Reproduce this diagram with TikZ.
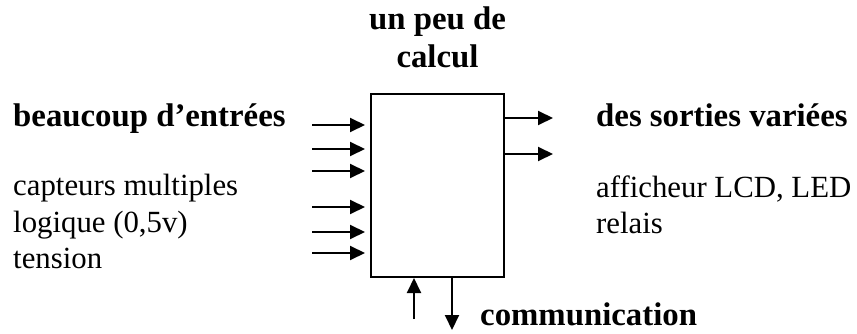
\documentclass[tikz,border=0pt]{standalone}
\usepackage{fontspec}
\setmainfont{Liberation Serif}
\usetikzlibrary{arrows.meta}

\begin{document}
\begin{tikzpicture}[
  x=1pt, y=-1pt,
  line cap=butt, line join=miter,
  every node/.style={inner sep=0pt},
  big/.style={font=\fontsize{32.8}{38}\selectfont\bfseries},
  plain/.style={font=\fontsize{30.8}{36}\selectfont},
  block/.style={draw=black, line width=2pt, minimum width=133pt, minimum height=183pt},
  flow/.style={draw=black, line width=2pt, -{Triangle[length=15pt,width=14pt]}},
]
\useasboundingbox (0,0) rectangle (857,334);
\node[block] (calc) at (437.5,185.5) {};
% titres
\node[big, align=center, anchor=base] (titre) at (437.5,68) {un peu de\\calcul};
\node[big, anchor=base west] (entrees) at (13,127) {beaucoup d’entrées};
\node[big, anchor=base west] (sorties) at (596,127) {des sorties variées};
\node[big, anchor=base west] (comm) at (480,325) {communication};
% entrees
\node[plain, anchor=base west] (capteurs) at (13,196) {capteurs multiples};
\node[plain, anchor=base west] (logique) at (13,232) {logique (0,5v)};
\node[plain, anchor=base west] (tension) at (13,268) {tension};
% sorties
\node[plain, anchor=base west] (lcd) at (596,197) {afficheur LCD, LED};
\node[plain, anchor=base west] (relais) at (596,233) {relais};
% fleches d'entree
\coordinate (in1) at (312,125);
\coordinate (in2) at (312,149);
\coordinate (in3) at (312,171);
\coordinate (in4) at (312,207);
\coordinate (in5) at (312,232);
\coordinate (in6) at (312,253);
\draw[flow, shorten >=5pt] (in1) -- (in1 -| calc.west);
\draw[flow, shorten >=5pt] (in2) -- (in2 -| calc.west);
\draw[flow, shorten >=5pt] (in3) -- (in3 -| calc.west);
\draw[flow, shorten >=5pt] (in4) -- (in4 -| calc.west);
\draw[flow, shorten >=5pt] (in5) -- (in5 -| calc.west);
\draw[flow, shorten >=5pt] (in6) -- (in6 -| calc.west);
% fleches de sortie
\coordinate (out1) at (553,118);
\coordinate (out2) at (553,154);
\draw[flow] (out1 -| calc.east) -- (out1);
\draw[flow] (out2 -| calc.east) -- (out2);
% communication
\coordinate (rx) at (414,319);
\coordinate (tx) at (452,330);
\draw[flow] (rx) -- (rx |- calc.south);
\draw[flow] (tx |- calc.south) -- (tx);
\end{tikzpicture}
\end{document}
